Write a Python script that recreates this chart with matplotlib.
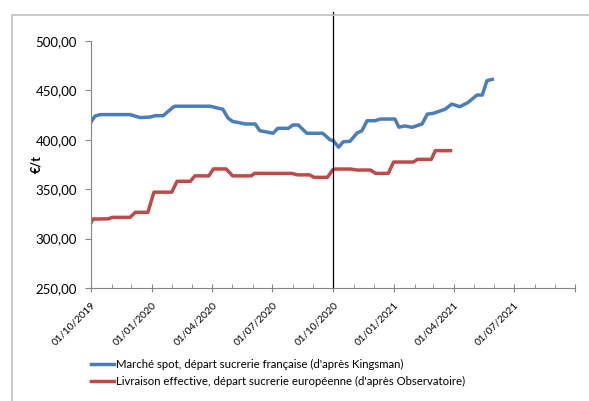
import matplotlib

matplotlib.use("Agg")
import matplotlib.pyplot as plt
import matplotlib.dates as mdates
import pandas as pd
from matplotlib.patches import Rectangle
from matplotlib.ticker import FuncFormatter

plt.rcParams.update({"font.family": ["Lato", "DejaVu Sans"], "font.size": 9})

# spot market, French sugar mill (Kingsman)
spot_dates = [
    "2019-10-01", "2019-10-07", "2019-10-15", "2019-11-29", "2019-12-14", "2019-12-29",
    "2020-01-06", "2020-01-18", "2020-02-02", "2020-02-05", "2020-03-29", "2020-04-10",
    "2020-04-17", "2020-04-25", "2020-05-02", "2020-05-10", "2020-05-21", "2020-06-05",
    "2020-06-12", "2020-06-20", "2020-07-02", "2020-07-09", "2020-07-25", "2020-08-01",
    "2020-08-09", "2020-08-22", "2020-09-15", "2020-09-26", "2020-10-01", "2020-10-09",
    "2020-10-16", "2020-10-26", "2020-11-06", "2020-11-13", "2020-11-21", "2020-12-03",
    "2020-12-11", "2021-01-02", "2021-01-08", "2021-01-17", "2021-01-28", "2021-02-12",
    "2021-02-20", "2021-03-01", "2021-03-19", "2021-03-29", "2021-04-10", "2021-04-22",
    "2021-05-06", "2021-05-14", "2021-05-21", "2021-05-29",
]
spot_values = [
    418, 424, 425.5, 425.5, 422.5, 423,
    424.4, 424.4, 433, 434, 434, 432,
    431, 422, 418.5, 417.6, 416, 416,
    409.2, 408.2, 406.6, 411.6, 411.6, 415,
    415, 406.6, 406.6, 400, 399, 392.5,
    398, 398.4, 407, 409, 419.3, 419.3,
    421, 421, 412.8, 414, 412.6, 416,
    426, 426.8, 431, 436.2, 433.5, 437.6,
    445.3, 445.3, 459.8, 461.2,
]

# effective delivery, European sugar mill (Observatoire)
deliv_dates = [
    "2019-10-01", "2019-10-04", "2019-10-27", "2019-11-02", "2019-11-29", "2019-12-07",
    "2019-12-26", "2020-01-04", "2020-01-31", "2020-02-08", "2020-02-28", "2020-03-06",
    "2020-03-27", "2020-04-03", "2020-04-22", "2020-05-02", "2020-05-30", "2020-06-04",
    "2020-07-30", "2020-08-08", "2020-08-26", "2020-09-02", "2020-09-22", "2020-10-01",
    "2020-10-27", "2020-11-06", "2020-11-26", "2020-12-04", "2020-12-23", "2020-12-31",
    "2021-01-30", "2021-02-05", "2021-02-26", "2021-03-04", "2021-03-27",
]
deliv_values = [
    316, 319.8, 320, 321.5, 321.5, 326.6,
    326.6, 347, 347, 358, 358, 363.5,
    363.5, 370.5, 370.5, 363.5, 363.5, 366,
    366, 364.5, 364.5, 362, 362, 370.4,
    370.4, 369.4, 369.4, 366, 366, 377.5,
    377.5, 380.2, 380.2, 389, 389,
]

labels = [
    "Marché spot, départ sucrerie française (d'après Kingsman)",
    "Livraison effective, départ sucrerie européenne (d'après Observatoire)",
]
tick_dates = ["2019-10-01", "2020-01-01", "2020-04-01", "2020-07-01", "2020-10-01",
              "2021-01-01", "2021-04-01", "2021-07-01", "2021-10-01"]
marker_date = "2020-10-01"

fig = plt.figure(figsize=(5.89, 4.01), dpi=100)
ax = fig.add_axes([91 / 589, 1 - 288 / 401, 484 / 589, 247 / 401])

# outer chart frame (cut by the image edge on the right and bottom)
fig.add_artist(Rectangle((12 / 589, -0.1), 1.2, 1.1 - 15 / 401, transform=fig.transFigure,
                         fill=False, edgecolor="#bfbfbf", lw=1.2))

ax.plot(pd.to_datetime(spot_dates), spot_values, color="#4a7ebb", lw=2.5, label=labels[0])
ax.plot(pd.to_datetime(deliv_dates), deliv_values, color="#be4b48", lw=2.5, label=labels[1])
ax.axvline(pd.Timestamp(marker_date), ymin=0, ymax=276 / 247, color="black", lw=0.9, clip_on=False)

ax.set_xlim(pd.Timestamp(tick_dates[0]), pd.Timestamp(tick_dates[-1]))
ax.set_ylim(250, 500)
ax.set_yticks(range(250, 501, 50))
ax.yaxis.set_major_formatter(FuncFormatter(lambda v, _: f"{v:.2f}".replace(".", ",")))

ticks = pd.to_datetime(tick_dates)
ax.set_xticks(ticks)
ax.set_xticklabels([t.strftime("%d/%m/%Y") for t in ticks[:-1]] + [""],
                   rotation=45, ha="right", rotation_mode="anchor", fontsize=7.5)
ax.xaxis.set_minor_locator(mdates.MonthLocator())

for side in ("top", "right"):
    ax.spines[side].set_visible(False)
for side in ("left", "bottom"):
    ax.spines[side].set_color("#868686")
ax.tick_params(axis="y", colors="#868686", labelcolor="black", length=4, direction="out",
               labelsize=9.5, pad=6)
ax.tick_params(axis="x", which="major", colors="#868686", labelcolor="black",
               length=6, direction="inout", pad=6)
ax.tick_params(axis="x", which="minor", colors="#868686", length=3, direction="in")

ax.set_ylabel("€/t", fontweight="bold")
ax.yaxis.set_label_coords(-0.1, 0.5)

fig.legend(loc="upper left", bbox_to_anchor=(86 / 589, 1 - 354 / 401), frameon=False,
           fontsize=8.2, handlelength=2.1, handletextpad=0.15, labelspacing=0.6,
           borderaxespad=0)

fig.savefig("out.png")
